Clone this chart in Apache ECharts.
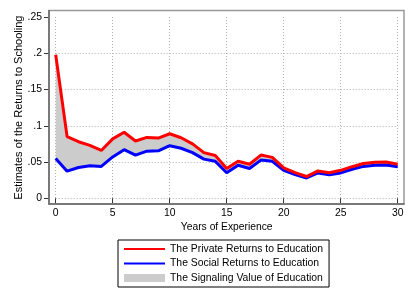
<!DOCTYPE html>
<html><head><meta charset="utf-8">
<script src="https://cdn.jsdelivr.net/npm/echarts@6/dist/echarts.min.js"></script>
<style>html,body{margin:0;padding:0;background:#fff}#c{width:415px;height:302px}</style>
</head><body><div id="c"></div>
<script>
var years = [0,1,2,3,4,5,6,7,8,9,10,11,12,13,14,15,16,17,18,19,20,21,22,23,24,25,26,27,28,29,30];
var privateReturns = [0.198,0.085,0.078,0.073,0.066,0.082,0.091,0.079,0.084,0.083,0.089,0.0835,0.075,0.063,0.059,0.041,0.051,0.047,0.0596,0.0564,0.042,0.0353,0.030,0.0377,0.0353,0.0386,0.0436,0.048,0.0496,0.050,0.047];
var socialReturns = [0.055,0.0374,0.0425,0.045,0.044,0.057,0.067,0.0595,0.065,0.0655,0.0725,0.069,0.063,0.054,0.051,0.0353,0.0455,0.041,0.0527,0.051,0.0386,0.0326,0.028,0.035,0.0326,0.035,0.040,0.044,0.0455,0.046,0.0436];
var yTickLabels = ['0','.05','.1','.15','.2','.25'];
var seriesNames = ['The Private Returns to Education','The Social Returns to Education','The Signaling Value of Education'];

var FONT = 'Liberation Sans, Arial, sans-serif';
var chart = echarts.init(document.getElementById('c'), null, {renderer:'canvas'});
var gap = years.map(function(y,i){ return privateReturns[i]-socialReturns[i]; });

chart.setOption({
  backgroundColor:'#fff',
  animation:false,
  grid:{left:55.7, right:17.3, top:17, bottom:103.7},
  xAxis:{type:'category', data:years.map(String), boundaryGap:false, offset:5.7,
    axisLine:{show:false},
    axisTick:{show:true, length:5, interval:4, alignWithLabel:true, lineStyle:{color:'#333'}},
    axisLabel:{margin:4, interval:4, fontFamily:FONT, fontSize:10.4, color:'#000'},
    splitLine:{show:true, interval:4, lineStyle:{color:'#b0b0b0', type:[1,2], width:1}},
    name:'Years of Experience', nameLocation:'middle', nameGap:18, nameMoveOverlap:false,
    nameTextStyle:{fontFamily:FONT, fontSize:10.3, color:'#000'}
  },
  yAxis:{type:'value', min:0, max:0.25, interval:0.05, offset:6.7,
    axisLine:{show:false},
    axisTick:{show:true, length:5, lineStyle:{color:'#333'}},
    axisLabel:{margin:7, fontFamily:FONT, fontSize:10.4, color:'#000',
      formatter:function(v){ return yTickLabels[Math.round(v/0.05)]; }},
    splitLine:{show:true, showMaxLine:false, lineStyle:{color:'#b0b0b0', type:[1,2], width:1}},
    name:'Estimates of the Returns to Schooling', nameLocation:'middle', nameGap:25, nameMoveOverlap:false,
    nameTextStyle:{fontFamily:FONT, fontSize:11, color:'#000'}
  },
  legend:{orient:'vertical', left:118, top:240, padding:[3,6,3,5],
    borderColor:'#000', borderWidth:1, itemWidth:41, itemHeight:8, itemGap:2.5,
    textStyle:{fontFamily:FONT, fontSize:10.4, color:'#000', lineHeight:12},
    selectedMode:false,
    data:[
      {name:seriesNames[0], itemStyle:{opacity:0}},
      {name:seriesNames[1], itemStyle:{opacity:0}},
      {name:seriesNames[2], icon:'rect', itemStyle:{color:'#cccccc', borderWidth:0}}
    ]
  },
  graphic:[
    {type:'rect', shape:{x:49, y:10.5, width:355, height:193.5}, style:{fill:null, stroke:'#999', lineWidth:1.5}, z:100, silent:true},
    {type:'line', shape:{x1:49, y1:10, x2:49, y2:204.5}, style:{stroke:'#666', lineWidth:1.5}, z:101, silent:true},
    {type:'line', shape:{x1:48.5, y1:204, x2:404.5, y2:204}, style:{stroke:'#666', lineWidth:1.5}, z:101, silent:true}
  ],
  series:[
    {name:'base', type:'line', stack:'s', data:socialReturns, symbol:'none',
      lineStyle:{width:0, opacity:0}, silent:true, z:1},
    {name:seriesNames[2], type:'line', stack:'s', data:gap, symbol:'none',
      color:'#cccccc', itemStyle:{color:'#cccccc'},
      lineStyle:{width:0, opacity:0}, areaStyle:{color:'#cccccc', opacity:1}, silent:true, z:2},
    {name:seriesNames[1], type:'line', data:socialReturns, symbol:'none', color:'#0000ff',
      lineStyle:{color:'#0000ff', width:3}, silent:true, z:3},
    {name:seriesNames[0], type:'line', data:privateReturns, symbol:'none', color:'#ff0000',
      lineStyle:{color:'#ff0000', width:3}, silent:true, z:4}
  ]
});
</script></body></html>
